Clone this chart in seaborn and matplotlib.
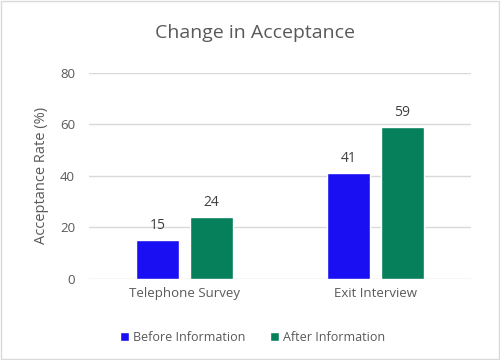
import matplotlib
matplotlib.use("Agg")
import matplotlib.pyplot as plt
import seaborn as sns
import pandas as pd
from matplotlib.patches import Rectangle

categories = ["Telephone Survey", "Exit Interview"]
series_names = ["Before Information", "After Information"]
before = [15, 41]
after = [24, 59]
yticks = [0, 20, 40, 60, 80]

df = pd.DataFrame({
    "cat": categories * 2,
    "series": [series_names[0]] * 2 + [series_names[1]] * 2,
    "val": before + after,
})

sns.set_theme(style="white")
plt.rcParams['font.family'] = ['Open Sans', 'DejaVu Sans']

fig = plt.figure(figsize=(5, 3.6), dpi=100)
ax = fig.add_axes([0.178, 0.225, 0.764, 0.573])

palette = {series_names[0]: "#1a0ff2", series_names[1]: "#05805a"}
sns.barplot(data=df, x="cat", y="val", hue="series", palette=palette,
            width=0.565, gap=0.22, ax=ax, saturation=1, legend=True)

ax.set_ylim(0, 80)
ax.set_yticks(yticks)
ax.yaxis.grid(True, color="#d9d9d9", linewidth=1)
ax.set_axisbelow(True)
for s in ax.spines.values():
    s.set_visible(False)
ax.tick_params(axis="both", length=0, colors="#595959", labelsize=9.5)
ax.tick_params(axis="y", pad=10)
ax.tick_params(axis="x", pad=6)
ax.set_xlabel("")
ax.set_ylabel("Acceptance Rate (%)", color="#595959", fontsize=10.5, labelpad=8)
ax.set_xlim(-0.5, 1.5)

for cont in ax.containers:
    ax.bar_label(cont, fmt="%d", padding=5, color="#404040", fontsize=10)

fig.text(0.51, 0.908, "Change in Acceptance", ha="center", va="center",
         fontsize=14, color="#595959")

handles, labels = ax.get_legend_handles_labels()
ax.legend_.remove()
fig.legend(handles, labels, loc="center", bbox_to_anchor=(0.505, 0.062), ncol=2,
           frameon=False, fontsize=9, labelcolor="#595959",
           handlelength=0.7, handleheight=0.7, handletextpad=0.3, columnspacing=2.0)

fig.patches.append(Rectangle((0.002, 0.003), 0.996, 0.994, transform=fig.transFigure,
                             fill=False, edgecolor="#d9d9d9", linewidth=1))

fig.savefig("out.png", dpi=100, facecolor="white")
